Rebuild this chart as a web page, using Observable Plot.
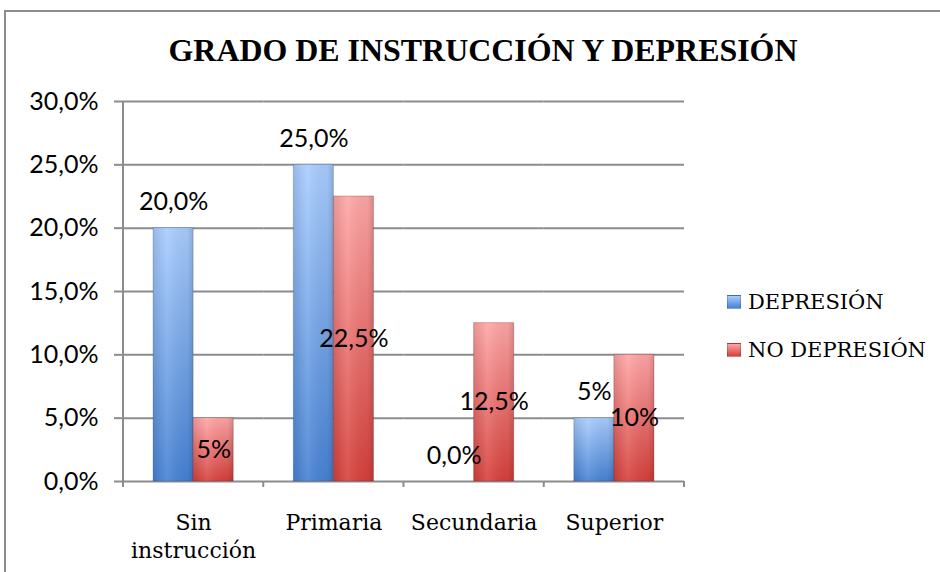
<!DOCTYPE html>
<html>
<head>
<meta charset="utf-8">
<script src="https://cdn.jsdelivr.net/npm/d3@7"></script>
<script src="https://cdn.jsdelivr.net/npm/@observablehq/plot@0.6"></script>
<style>
html,body{margin:0;padding:0;background:#fff;overflow:hidden;}
#wrap{position:relative;width:940px;height:572px;overflow:hidden;background:#fff;}
#frame{position:absolute;left:4px;top:10px;width:1000px;height:700px;border-left:2px solid #8c8c8c;border-top:2px solid #8c8c8c;}
#title{position:absolute;left:0;top:0;}
#chart{position:absolute;left:0;top:80px;}
.legend{position:absolute;left:727px;height:24px;line-height:24px;font-family:"DejaVu Serif";font-size:21px;color:#000;display:flex;align-items:center;white-space:nowrap;}
.sw{width:14px;height:14px;margin-right:7px;box-sizing:border-box;border:1px solid rgba(0,0,0,0.18);}
</style>
</head>
<body>
<div id="wrap">
  <div id="frame"></div>
  <svg id="title" width="940" height="80"><text x="483" y="61" text-anchor="middle" font-family="Liberation Serif" font-weight="bold" font-size="32" textLength="629" lengthAdjust="spacingAndGlyphs" fill="#000">GRADO DE INSTRUCCIÓN Y DEPRESIÓN</text></svg>
  <div id="chart"></div>
  <div id="legend"></div>
</div>
<script>
const categories = ["Sin instrucción", "Primaria", "Secundaria", "Superior"];
const catLabels = ["Sin\ninstrucción", "Primaria", "Secundaria", "Superior"];
const series = ["DEPRESIÓN", "NO DEPRESIÓN"];
const depresion = [0.20, 0.25, 0.00, 0.05];
const noDepresion = [0.05, 0.225, 0.125, 0.10];
const depLabels = ["20,0%", "25,0%", "0,0%", "5%"];
const noDepLabels = ["5%", "22,5%", "12,5%", "10%"];
const yTicks = [0, 0.05, 0.10, 0.15, 0.20, 0.25, 0.30];
const yTickLabels = ["0,0%", "5,0%", "10,0%", "15,0%", "20,0%", "25,0%", "30,0%"];

const depRows = categories.map((c, i) => ({cat: c, serie: series[0], value: depresion[i], label: depLabels[i]}));
const noRows = categories.map((c, i) => ({cat: c, serie: series[1], value: noDepresion[i], label: noDepLabels[i]}));

const grid = "#8c8c8c";
const sans = "Lato, 'Open Sans', sans-serif";

const chart = Plot.plot({
  width: 940,
  height: 492,
  marginTop: 21,
  marginBottom: 91,
  marginLeft: 123,
  marginRight: 256,
  style: {fontFamily: sans, fontSize: "25px", color: "#000", background: "transparent", overflow: "visible"},
  fx: {domain: categories, padding: 0, axis: null, round: false, label: null},
  x: {domain: series, paddingInner: 0, paddingOuter: 0.75, axis: null, round: false, label: null},
  y: {domain: [0, 0.30], axis: null, label: null},
  marks: [
    Plot.ruleY(yTicks, {stroke: grid, strokeWidth: 2}),
    Plot.barY(depRows, {fx: "cat", x: "serie", y: "value", fill: "url(#gBlue)", stroke: "rgba(30,60,120,0.25)", strokeWidth: 1}),
    Plot.barY(noRows, {fx: "cat", x: "serie", y: "value", fill: "url(#gRed)", stroke: "rgba(120,30,30,0.3)", strokeWidth: 1}),
    Plot.barY([...depRows, ...noRows], {fx: "cat", x: "serie", y: "value", fill: "url(#gSheen)"}),
    Plot.text(depRows, {fx: "cat", x: "serie", y: "value", text: "label", lineAnchor: "bottom", dy: -18, fill: "#000", fontSize: 25}),
    Plot.text(noRows, {fx: "cat", x: "serie", y: d => d.value / 2, text: "label", lineAnchor: "middle", fill: "#000", fontSize: 25}),
    Plot.axisY({ticks: yTicks, tickFormat: d => yTickLabels[yTicks.indexOf(d)], tickSize: 9, tickPadding: 16, stroke: grid, strokeWidth: 2, fontSize: 25, fill: "#000", label: null}),
    Plot.axisFx({anchor: "bottom", tickSize: 0, tickPadding: 28, tickFormat: d => catLabels[categories.indexOf(d)], fontFamily: "DejaVu Serif", fontSize: 22, lineHeight: 1.3, fill: "#000", label: null})
  ]
});

// gradients
const defs = d3.create("svg:defs");
function vgrad(id, top, bottom) {
  const g = defs.append("linearGradient").attr("id", id).attr("x1", 0).attr("y1", 0).attr("x2", 0).attr("y2", 1);
  g.append("stop").attr("offset", "0%").attr("stop-color", top);
  g.append("stop").attr("offset", "100%").attr("stop-color", bottom);
}
vgrad("gBlue", "#a9cdff", "#4682d4");
vgrad("gRed", "#ffa6a6", "#d6403b");
const sh = defs.append("linearGradient").attr("id", "gSheen").attr("x1", 0).attr("y1", 0).attr("x2", 1).attr("y2", 0);
sh.append("stop").attr("offset", "0%").attr("stop-color", "#000").attr("stop-opacity", 0.10);
sh.append("stop").attr("offset", "35%").attr("stop-color", "#fff").attr("stop-opacity", 0.10);
sh.append("stop").attr("offset", "85%").attr("stop-color", "#000").attr("stop-opacity", 0.04);
sh.append("stop").attr("offset", "100%").attr("stop-color", "#000").attr("stop-opacity", 0.16);
chart.prepend(defs.node());

// y axis line and category boundary ticks, from Plot's own scales
const fx = chart.scale("fx"), y = chart.scale("y");
const g = d3.select(chart).append("g").attr("stroke", grid).attr("stroke-width", 2);
const bounds = categories.map(c => fx.apply(c)).concat([fx.range[1]]);
g.append("line").attr("x1", bounds[0]).attr("x2", bounds[0]).attr("y1", y.apply(0.30)).attr("y2", y.apply(0) + 6);
bounds.forEach(b => g.append("line").attr("x1", b).attr("x2", b).attr("y1", y.apply(0)).attr("y2", y.apply(0) + 6));

document.getElementById("chart").appendChild(chart);

// legend
const legend = document.getElementById("legend");
const swatches = [["linear-gradient(#a9cdff,#4682d4)", 290], ["linear-gradient(#ffa6a6,#d6403b)", 338]];
series.forEach((s, i) => {
  const item = document.createElement("div");
  item.className = "legend";
  item.style.top = swatches[i][1] + "px";
  const sw = document.createElement("span");
  sw.className = "sw";
  sw.style.background = swatches[i][0];
  item.appendChild(sw);
  item.appendChild(document.createTextNode(s));
  legend.appendChild(item);
});
</script>
</body>
</html>
